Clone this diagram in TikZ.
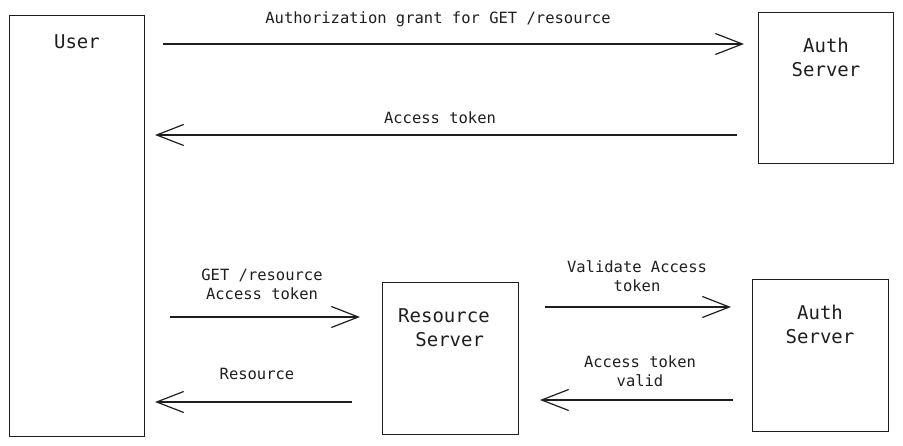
\documentclass[tikz,border=0pt]{standalone}
\usepackage{fontspec}
\setmonofont{DejaVu Sans Mono}
\usetikzlibrary{arrows.meta}
\definecolor{ink}{HTML}{1E1E1E}
\tikzset{
  box/.style={draw=ink,line width=1.3pt,anchor=north west,inner sep=0pt},
  boxtext/.style={font=\ttfamily\fontsize{19}{24}\selectfont,align=center,text=ink},
  msg/.style={font=\ttfamily\fontsize{15.5}{19}\selectfont,align=center,text=ink},
  flow/.style={draw=ink,line width=1.2pt,-{Straight Barb[length=27pt,width=21pt,line width=1.2pt]}}
}
\begin{document}
\begin{tikzpicture}[x=1pt,y=-1pt]
    \useasboundingbox (0,0) rectangle (903,446);
    % participants
    \node[box,minimum width=135pt,minimum height=421pt] (user) at (9,15) {};
    \node[boxtext] (userlbl) at (77,42) {User};
    \node[box,minimum width=135pt,minimum height=151pt] (auth1) at (758,12) {};
    \node[boxtext] (auth1lbl) at (826,57) {Auth\\Server};
    \node[box,minimum width=136pt,minimum height=152pt] (res) at (382,282) {};
    \node[boxtext] (reslbl) at (444,328) {Resource\\\ Server};
    \node[box,minimum width=136pt,minimum height=152pt] (auth2) at (752,279) {};
    \node[boxtext] (auth2lbl) at (820,324) {Auth\\Server};
    % arrow ends
    \coordinate (g1s) at (163,44);  \coordinate (g1e) at (744,44);
    \coordinate (t1s) at (737,135); \coordinate (t1e) at (155,135);
    \coordinate (r1s) at (170,317); \coordinate (r1e) at (360,317);
    \coordinate (r2s) at (352,402); \coordinate (r2e) at (155,402);
    \coordinate (v1s) at (545,307); \coordinate (v1e) at (731,307);
    \coordinate (v2s) at (733,400); \coordinate (v2e) at (540,400);
    % messages
    \draw[flow] (g1s) -- (g1e);
    \node[msg] (grant) at (438,19) {Authorization grant for GET /resource};
    \draw[flow] (t1s) -- (t1e);
    \node[msg] (token) at (440,118) {Access token};
    \draw[flow] (r1s) -- (r1e);
    \node[msg] (getres) at (262,284) {GET /resource\\Access token};
    \draw[flow] (r2s) -- (r2e);
    \node[msg] (resource) at (257,374) {Resource};
    \draw[flow] (v1s) -- (v1e);
    \node[msg] (validate) at (637,276) {Validate Access\\token};
    \draw[flow] (v2s) -- (v2e);
    \node[msg] (valid) at (640,371) {Access token\\valid};
\end{tikzpicture}
\end{document}
